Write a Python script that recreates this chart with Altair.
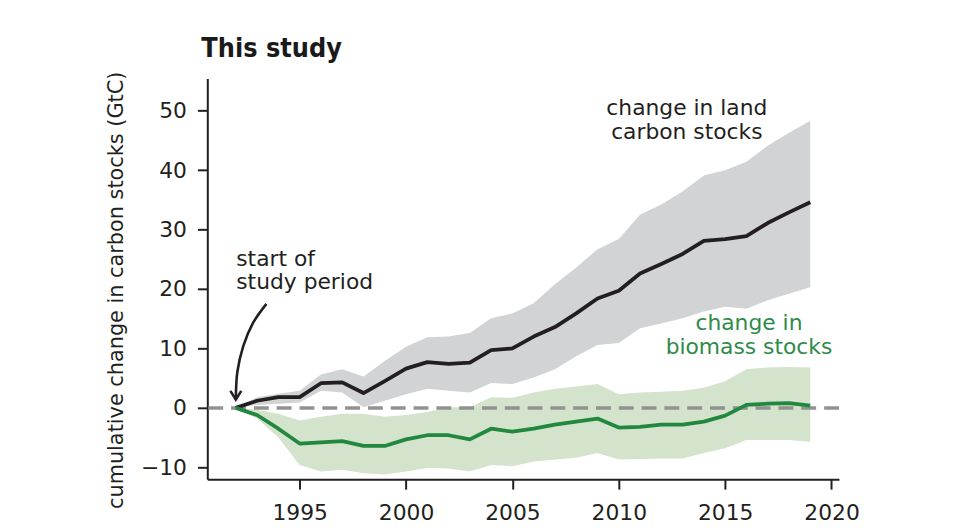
import altair as alt
import pandas as pd

years = list(range(1992, 2020))
land = [0, 1.2, 1.8, 1.8, 4.15, 4.3, 2.5, 4.5, 6.6, 7.7, 7.4, 7.6, 9.7, 10.0,
        12.0, 13.6, 15.9, 18.4, 19.7, 22.6, 24.2, 25.9, 28.1, 28.4, 28.9, 31.1, 32.9, 34.6]
land_hi = [0, 1.8, 2.4, 2.9, 5.6, 6.5, 5.3, 7.9, 10.3, 11.9, 12.0, 12.6, 15.1, 15.9,
           17.6, 20.8, 23.6, 26.7, 28.4, 32.5, 34.2, 36.4, 39.1, 40.0, 41.4, 44.1, 46.3, 48.3]
land_lo = [0, 0.5, 0.7, 0.9, 2.9, 2.6, 0.1, 1.2, 2.3, 3.2, 2.9, 2.6, 4.2, 4.0,
           5.1, 6.5, 8.7, 10.6, 10.9, 13.4, 14.2, 15.1, 16.2, 17.0, 16.7, 18.1, 19.2, 20.3]
bio = [0, -1.2, -3.5, -6.0, -5.8, -5.6, -6.4, -6.4, -5.3, -4.6, -4.6, -5.3, -3.5, -4.0,
       -3.5, -2.8, -2.3, -1.8, -3.3, -3.2, -2.8, -2.8, -2.3, -1.3, 0.5, 0.7, 0.8, 0.4]
bio_hi = [0, -0.3, -1.0, -2.1, -1.5, -1.0, -1.0, -1.5, -1.2, -0.7, 0.1, 0.1, 1.8, 1.7,
          2.6, 3.2, 3.6, 4.0, 2.3, 2.6, 2.7, 2.9, 3.4, 4.5, 6.5, 6.8, 6.9, 6.8]
bio_lo = [0, -1.8, -5.0, -9.6, -10.7, -10.4, -11.0, -11.2, -10.7, -10.1, -10.2, -10.7, -9.6, -9.8,
          -9.0, -8.7, -8.4, -7.6, -8.7, -8.6, -8.5, -8.5, -7.6, -6.8, -5.4, -5.4, -5.4, -5.7]

x_ticks = [1995, 2000, 2005, 2010, 2015, 2020]
y_ticks = [-10, 0, 10, 20, 30, 40, 50]

# annotation arrow path (data space)
arrow_x = [1993.44, 1992.81, 1992.35, 1992.07, 1992.0]
arrow_y = [17.5, 14.3, 10.4, 6.0, 1.4]

df = pd.DataFrame({"year": years, "land": land, "land_hi": land_hi, "land_lo": land_lo,
                   "bio": bio, "bio_hi": bio_hi, "bio_lo": bio_lo})
arrow_df = pd.DataFrame({"x": arrow_x, "y": arrow_y, "o": list(range(len(arrow_x)))})
labels_df = pd.DataFrame({
    "x": [1992.02, 2013.2, 2016.12],
    "y": [25.1, 50.4, 14.2],
    "text": [["start of", "study period"], ["change in land", "carbon stocks"],
             ["change in", "biomass stocks"]],
    "color": ["#231f20", "#231f20", "#2e8b4a"],
})

FONT = "DejaVu Sans"
INK = "#231f20"

xs = alt.Scale(domain=[1990.66, 2020.35], nice=False, zero=False)
ys = alt.Scale(domain=[-12, 55.4], nice=False, zero=False)

X = alt.X("year:Q", scale=xs, axis=alt.Axis(values=x_ticks, format="d", title=None))
Y_axis = alt.Axis(values=y_ticks, title="cumulative change in carbon stocks (GtC)", titleY=213)

base = alt.Chart(df)

band_land = base.mark_area(color="#d1d3d4").encode(
    x=X, y=alt.Y("land_lo:Q", scale=ys, axis=Y_axis), y2="land_hi:Q")
band_bio = base.mark_area(color="#d4e3cc").encode(
    x=X, y=alt.Y("bio_lo:Q", scale=ys), y2="bio_hi:Q")
zero = alt.Chart(pd.DataFrame({"z": [0]})).mark_rule(
    color="#8c8c8c", strokeWidth=3.5, strokeDash=[15, 8], opacity=0.95
).encode(y=alt.Y("z:Q", scale=ys))
line_land = base.mark_line(color=INK, strokeWidth=3.8, strokeJoin="round").encode(
    x=X, y=alt.Y("land:Q", scale=ys))
line_bio = base.mark_line(color="#22883f", strokeWidth=3.8, strokeJoin="round").encode(
    x=X, y=alt.Y("bio:Q", scale=ys))

arrow = alt.Chart(arrow_df).mark_line(color=INK, strokeWidth=2.6, interpolate="cardinal").encode(
    x=alt.X("x:Q", scale=xs), y=alt.Y("y:Q", scale=ys), order="o:Q")
head = alt.Chart(arrow_df.tail(1)).mark_point(
    shape="M-1,-1.6L0,0L1,-1.6", filled=False, stroke=INK, strokeWidth=2.6, size=121, opacity=1
).encode(x=alt.X("x:Q", scale=xs), y=alt.Y("y:Q", scale=ys))

def label(i, align):
    d = labels_df.iloc[[i]]
    return alt.Chart(d).mark_text(
        font=FONT, fontSize=22, lineHeight=24, align=align, baseline="middle",
        color=labels_df["color"][i]
    ).encode(x=alt.X("x:Q", scale=xs), y=alt.Y("y:Q", scale=ys), text="text")

texts = [label(0, "left"), label(1, "center"), label(2, "center")]

chart = alt.layer(band_land, band_bio, zero, line_land, line_bio, arrow, head, *texts).properties(
    width=637, height=404,
    padding={"left": 201, "top": 69, "right": 114, "bottom": 49},
    autosize=alt.AutoSizeParams(type="none"),
    title=alt.Title("This study", anchor="start", frame="group",
                    font="Liberation Sans Narrow, DejaVu Sans Condensed, sans-serif",
                    fontSize=27, fontWeight="bold", color="#1a1a1a", dx=-6, offset=8),
).configure_view(stroke=None).configure_axis(
    grid=False, domainColor=INK, domainWidth=2, tickColor=INK, tickWidth=2, tickSize=10,
    labelFont=FONT, labelFontSize=22, labelColor=INK, labelPadding=4,
    titleFont=FONT, titleFontSize=21, titleFontWeight="normal", titleColor=INK,
).configure_axisY(labelPadding=11, titlePadding=14).configure_axisX(labelPadding=14)

chart.save("out.html", embed_options={"renderer": "svg", "actions": False})
